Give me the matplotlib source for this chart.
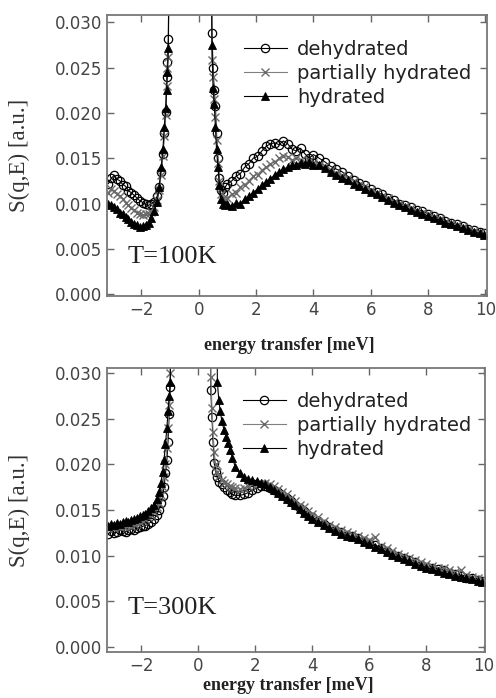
import matplotlib
matplotlib.use('Agg')
import matplotlib.pyplot as plt
from matplotlib.ticker import FormatStrFormatter

# ---- data ----
# energy transfer [meV], left (negative) wing
x_left_100 = [-3.15, -3.05, -2.95, -2.85, -2.75, -2.65, -2.55, -2.45, -2.35, -2.25, -2.15, -2.05, -1.95,
              -1.85, -1.75, -1.65, -1.55, -1.45, -1.38, -1.31, -1.25, -1.2, -1.15, -1.12, -1.09, -1.06, -1.02]
x_left_300 = [-3.15, -3.05, -2.95, -2.85, -2.75, -2.65, -2.55, -2.45, -2.35, -2.25, -2.15, -2.05, -1.95,
              -1.85, -1.75, -1.65, -1.55, -1.45, -1.38, -1.31, -1.25, -1.2, -1.15, -1.1, -1.06, -1.02, -0.98, -0.94]
# right wing, just after the elastic line
x_head_100 = [0.42, 0.46, 0.5, 0.54, 0.58, 0.62, 0.67, 0.72, 0.78, 0.85, 0.92, 1.0, 1.15, 1.3]
x_head_300 = [0.40, 0.44, 0.48, 0.52, 0.56, 0.61, 0.67, 0.74, 0.82, 0.91, 1.0, 1.1, 1.2, 1.3]
x_head_300_hyd = [0.63, 0.67, 0.72, 0.77, 0.83, 0.90, 0.98, 1.05, 1.12, 1.2, 1.3]
# common tail
x_tail = [1.45, 1.6, 1.75, 1.9, 2.05, 2.2, 2.35, 2.5, 2.65, 2.8, 2.95, 3.1, 3.25, 3.4, 3.55, 3.7, 3.85, 4.0,
          4.2, 4.4, 4.6, 4.8, 5.0, 5.2, 5.4, 5.6, 5.8, 6.0, 6.2, 6.4, 6.6, 6.8, 7.0, 7.2, 7.4, 7.6, 7.8,
          8.0, 8.2, 8.4, 8.6, 8.8, 9.0, 9.2, 9.4, 9.6, 9.8, 9.95]

# T = 100K
deh_left_100 = [0.0122, 0.0128, 0.0131, 0.0127, 0.0125, 0.0121, 0.0119, 0.0114, 0.0112, 0.0109, 0.0106, 0.0103, 0.0101,
                0.0099, 0.0098, 0.0100, 0.0102, 0.0108, 0.0118, 0.0135, 0.0155, 0.0178, 0.0201, 0.0240, 0.0256, 0.0282, 0.045]
par_left_100 = [0.0112, 0.0116, 0.0114, 0.0111, 0.0108, 0.0105, 0.0101, 0.0098, 0.0095, 0.0093, 0.0090, 0.0089, 0.0087,
                0.0088, 0.0089, 0.0091, 0.0096, 0.0104, 0.0115, 0.0132, 0.0152, 0.0175, 0.0198, 0.0230, 0.0250, 0.0262, 0.045]
hyd_left_100 = [0.0100, 0.0098, 0.0096, 0.0094, 0.0090, 0.0088, 0.0085, 0.0083, 0.0080, 0.0078, 0.0076, 0.0074, 0.0075,
                0.0076, 0.0079, 0.0084, 0.0092, 0.0102, 0.0118, 0.0140, 0.0160, 0.0185, 0.0205, 0.0225, 0.0245, 0.0272, 0.045]

deh_head_100 = [0.045, 0.0288, 0.0250, 0.0225, 0.0208, 0.0178, 0.0150, 0.0128, 0.0115, 0.0112, 0.0118, 0.0122, 0.0125, 0.0130]
par_head_100 = [0.045, 0.0258, 0.0240, 0.0215, 0.0195, 0.0170, 0.0145, 0.0125, 0.0110, 0.0105, 0.0104, 0.0106, 0.0110, 0.0112]
hyd_head_100 = [0.045, 0.0275, 0.0228, 0.0210, 0.0185, 0.0160, 0.0140, 0.0120, 0.0105, 0.0100, 0.0098, 0.0100, 0.0097, 0.0101]

deh_tail_100 = [0.0133, 0.0140, 0.0144, 0.0150, 0.0152, 0.0158, 0.0163, 0.0166, 0.0167, 0.0165, 0.0169, 0.0166, 0.0160,
                0.0158, 0.0161, 0.0155, 0.0150, 0.0154,
                0.0150, 0.0146, 0.0141, 0.0138, 0.0135, 0.0130, 0.0126, 0.0123, 0.0120, 0.0116, 0.0113, 0.0110, 0.0106,
                0.0104, 0.0100, 0.0098, 0.0096, 0.0093, 0.0092, 0.0089, 0.0086, 0.0084, 0.0081, 0.0079, 0.0077, 0.0075,
                0.0072, 0.0071, 0.0069, 0.0067]
par_tail_100 = [0.0118, 0.0121, 0.0125, 0.0130, 0.0132, 0.0137, 0.0140, 0.0144, 0.0146, 0.0150, 0.0153, 0.0151, 0.0148,
                0.0150, 0.0148, 0.0146, 0.0147, 0.0145,
                0.0143, 0.0141, 0.0137, 0.0134, 0.0131, 0.0128, 0.0125, 0.0121, 0.0119, 0.0115, 0.0112, 0.0108, 0.0106,
                0.0102, 0.0099, 0.0097, 0.0095, 0.0092, 0.0090, 0.0088, 0.0085, 0.0083, 0.0080, 0.0078, 0.0076, 0.0074,
                0.0071, 0.0070, 0.0068, 0.0066]
hyd_tail_100 = [0.0100, 0.0105, 0.0108, 0.0112, 0.0116, 0.0120, 0.0124, 0.0127, 0.0132, 0.0135, 0.0138, 0.0140, 0.0142,
                0.0143, 0.0145, 0.0144, 0.0146, 0.0143,
                0.0142, 0.0139, 0.0135, 0.0132, 0.0128, 0.0126, 0.0122, 0.0119, 0.0116, 0.0113, 0.0110, 0.0107, 0.0104,
                0.0101, 0.0098, 0.0096, 0.0093, 0.0091, 0.0089, 0.0086, 0.0084, 0.0082, 0.0079, 0.0077, 0.0075, 0.0073,
                0.0071, 0.0069, 0.0067, 0.0065]

# T = 300K
deh_left_300 = [0.0124, 0.0127, 0.0125, 0.0126, 0.0128, 0.0127, 0.0126, 0.0128, 0.0129, 0.0128, 0.0130, 0.0131, 0.0132,
                0.0133, 0.0135, 0.0137, 0.0140, 0.0145, 0.0150, 0.0158, 0.0165, 0.0175, 0.0190, 0.0205, 0.0225, 0.0255,
                0.0285, 0.045]
par_left_300 = [0.0130, 0.0131, 0.0130, 0.0132, 0.0131, 0.0133, 0.0132, 0.0134, 0.0133, 0.0135, 0.0136, 0.0137, 0.0138,
                0.0140, 0.0142, 0.0145, 0.0148, 0.0153, 0.0158, 0.0166, 0.0175, 0.0186, 0.0200, 0.0218, 0.0240, 0.0265,
                0.0300, 0.045]
hyd_left_300 = [0.0133, 0.0135, 0.0134, 0.0136, 0.0135, 0.0137, 0.0138, 0.0137, 0.0139, 0.0140, 0.0141, 0.0143, 0.0144,
                0.0146, 0.0149, 0.0152, 0.0156, 0.0162, 0.0170, 0.0180, 0.0192, 0.0205, 0.0222, 0.0240, 0.0258, 0.0275,
                0.0290, 0.045]

deh_head_300 = [0.045, 0.0281, 0.0252, 0.0224, 0.0201, 0.0192, 0.0186, 0.0181, 0.0178, 0.0175, 0.0172, 0.0170, 0.0167, 0.0166]
par_head_300 = [0.045, 0.0296, 0.0262, 0.0235, 0.0213, 0.0200, 0.0192, 0.0187, 0.0183, 0.0180, 0.0178, 0.0176, 0.0175, 0.0174]
hyd_head_300 = [0.045, 0.0290, 0.0270, 0.0258, 0.0247, 0.0238, 0.0230, 0.0223, 0.0216, 0.0207, 0.0197]

deh_tail_300 = [0.0166, 0.0167, 0.0169, 0.0172, 0.0174, 0.0176, 0.0176, 0.0174, 0.0172, 0.0170, 0.0166, 0.0163, 0.0160,
                0.0156, 0.0152, 0.0149, 0.0145, 0.0142,
                0.0138, 0.0135, 0.0131, 0.0128, 0.0126, 0.0123, 0.0121, 0.0119, 0.0116, 0.0114, 0.0112, 0.0108, 0.0105,
                0.0102, 0.0100, 0.0097, 0.0095, 0.0093, 0.0090, 0.0088, 0.0086, 0.0085, 0.0084, 0.0081, 0.0080, 0.0078,
                0.0076, 0.0075, 0.0073, 0.0072]
par_tail_300 = [0.0173, 0.0174, 0.0176, 0.0178, 0.0179, 0.0180, 0.0180, 0.0178, 0.0176, 0.0173, 0.0170, 0.0167, 0.0163,
                0.0160, 0.0156, 0.0153, 0.0149, 0.0146,
                0.0142, 0.0138, 0.0134, 0.0131, 0.0128, 0.0126, 0.0124, 0.0121, 0.0119, 0.0117, 0.0120, 0.0111, 0.0108,
                0.0105, 0.0102, 0.0100, 0.0097, 0.0095, 0.0093, 0.0091, 0.0089, 0.0087, 0.0086, 0.0084, 0.0082, 0.0084,
                0.0079, 0.0077, 0.0076, 0.0074]
hyd_tail_300 = [0.0190, 0.0186, 0.0184, 0.0183, 0.0182, 0.0180, 0.0178, 0.0175, 0.0172, 0.0169, 0.0165, 0.0162, 0.0159,
                0.0155, 0.0151, 0.0147, 0.0143, 0.0140,
                0.0137, 0.0134, 0.0130, 0.0127, 0.0124, 0.0122, 0.0120, 0.0118, 0.0115, 0.0113, 0.0110, 0.0107, 0.0104,
                0.0101, 0.0098, 0.0096, 0.0094, 0.0091, 0.0089, 0.0087, 0.0085, 0.0083, 0.0081, 0.0080, 0.0078, 0.0077,
                0.0075, 0.0074, 0.0072, 0.0071]

labels = ['dehydrated', 'partially hydrated', 'hydrated']
temps = ['T=100K', 'T=300K']
x_ticks = [-2, 0, 2, 4, 6, 8, 10]
y_ticks = [0.000, 0.005, 0.010, 0.015, 0.020, 0.025, 0.030]

panels = [
    [(x_left_100 + x_head_100 + x_tail, deh_left_100 + deh_head_100 + deh_tail_100),
     (x_left_100 + x_head_100 + x_tail, par_left_100 + par_head_100 + par_tail_100),
     (x_left_100 + x_head_100 + x_tail, hyd_left_100 + hyd_head_100 + hyd_tail_100)],
    [(x_left_300 + x_head_300 + x_tail, deh_left_300 + deh_head_300 + deh_tail_300),
     (x_left_300 + x_head_300 + x_tail, par_left_300 + par_head_300 + par_tail_300),
     (x_left_300 + x_head_300_hyd + x_tail, hyd_left_300 + hyd_head_300 + hyd_tail_300)],
]

styles = [
    dict(color='black', marker='o', mfc='none', mec='black', ms=6, mew=0.9, lw=0.8),
    dict(color='#808080', marker='x', mec='#6a6a6a', ms=6, mew=1.0, lw=0.8),
    dict(color='black', marker='^', mfc='black', mec='black', ms=6, mew=0.6, lw=0.8),
]

fig = plt.figure(figsize=(4.96, 6.98), dpi=100)
# axes rectangles in figure fractions
rects = [[0.2157, 0.5759, 0.766, 0.4026], [0.2157, 0.0659, 0.762, 0.4069]]
ylims = [(-0.0002, 0.0308), (-0.00055, 0.03055)]
leg_y = [0.911, 0.915]
t_y = [0.139, 0.155]
xlab_y = [-0.146, -0.088]

for i in range(2):
    ax = fig.add_axes(rects[i])
    for (xs, ys), st, lab in zip(panels[i], styles, labels):
        ax.plot(xs, ys, label=lab, **st)
    ax.set_xlim(-3.2, 10.05)
    ax.set_ylim(*ylims[i])
    ax.set_xticks(x_ticks)
    ax.set_yticks(y_ticks)
    ax.yaxis.set_major_formatter(FormatStrFormatter('%.3f'))
    ax.tick_params(direction='in', length=5, width=1.0, color='#666666',
                   top=True, right=True, labelsize=12, labelcolor='#444444')
    for sp in ax.spines.values():
        sp.set_color('#777777')
        sp.set_linewidth(1.3)
    ax.set_ylabel('S(q,E) [a.u.]', family='Liberation Serif', fontsize=16.5, color='#333333')
    ax.yaxis.set_label_coords(-0.203, 0.5)
    ax.set_xlabel('energy transfer [meV]', family='Liberation Serif', fontweight='bold',
                  fontsize=13, color='#222222', va='top')
    ax.xaxis.set_label_coords(0.48, xlab_y[i])
    ax.text(0.055, t_y[i], temps[i], transform=ax.transAxes, family='Liberation Serif',
            fontsize=19, va='center', ha='left', color='#222222')
    ax.legend(loc='upper left', bbox_to_anchor=(0.36, leg_y[i]), frameon=False,
              borderaxespad=0, borderpad=0, handlelength=2.2, handletextpad=0.55,
              labelspacing=0.25, prop={'family': 'DejaVu Sans', 'size': 14}, labelcolor='#222222')

fig.savefig('out.png', dpi=100)
